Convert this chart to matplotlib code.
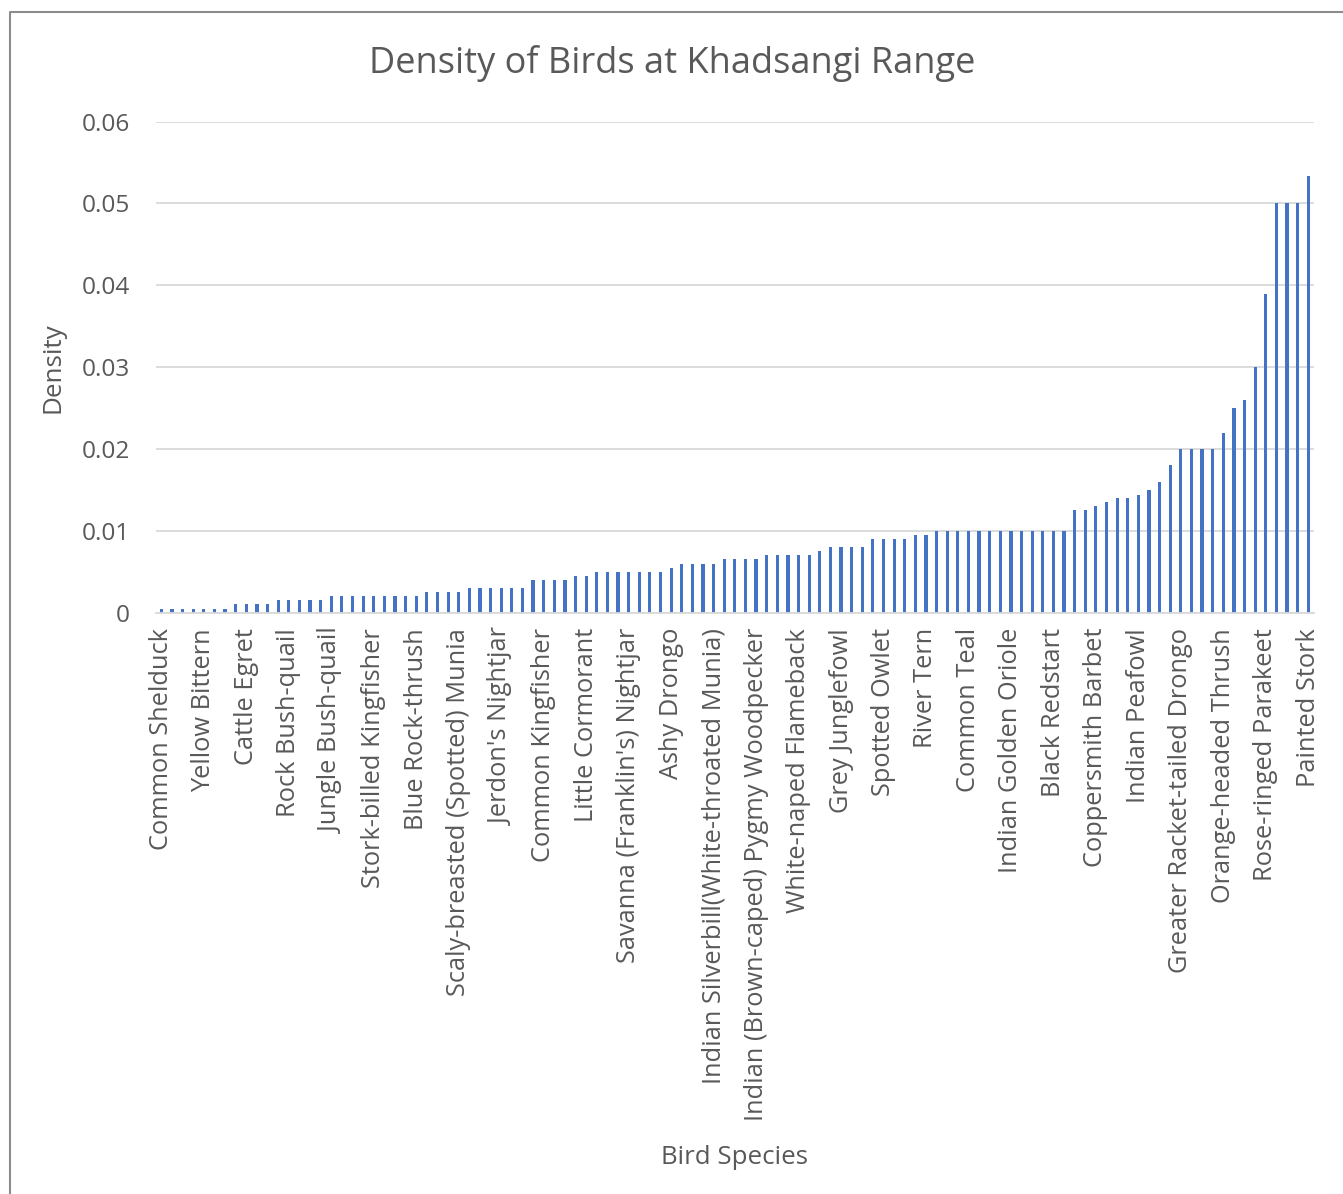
import matplotlib
matplotlib.use("Agg")
import matplotlib.pyplot as plt
from matplotlib.lines import Line2D

plt.rcParams['font.family'] = ['Open Sans', 'DejaVu Sans']

bar_col = "#4472C4"
txt_col = "#595959"
grid_col = "#D9D9D9"

# density per species, sorted ascending (109 species)
density = [
    0.0005, 0.0005, 0.0005, 0.0005, 0.0005, 0.0005, 0.0005,
    0.001, 0.001, 0.001, 0.001,
    0.0015, 0.0015, 0.0015, 0.0015, 0.0015,
    0.002, 0.002, 0.002, 0.002, 0.002, 0.002, 0.002, 0.002, 0.002,
    0.0025, 0.0025, 0.0025, 0.0025,
    0.003, 0.003, 0.003, 0.003, 0.003, 0.003,
    0.004, 0.004, 0.004, 0.004,
    0.0045, 0.0045,
    0.005, 0.005, 0.005, 0.005, 0.005, 0.005, 0.005,
    0.0055,
    0.006, 0.006, 0.006, 0.006,
    0.0065, 0.0065, 0.0065, 0.0065,
    0.007, 0.007, 0.007, 0.007, 0.007,
    0.0075,
    0.008, 0.008, 0.008, 0.008,
    0.009, 0.009, 0.009, 0.009,
    0.0095, 0.0095,
    0.01, 0.01, 0.01, 0.01, 0.01, 0.01, 0.01, 0.01, 0.01, 0.01, 0.01, 0.01, 0.01,
    0.0125, 0.0125,
    0.013,
    0.0135,
    0.014, 0.014,
    0.0144,
    0.015,
    0.016,
    0.018,
    0.02, 0.02, 0.02, 0.02,
    0.022,
    0.025,
    0.026,
    0.03,
    0.039,
    0.05, 0.05, 0.05,
    0.0533,
]

# only every 4th species name is shown on the axis
shown_labels = [
    "Common Shelduck", "Yellow Bittern", "Cattle Egret", "Rock Bush-quail",
    "Jungle Bush-quail", "Stork-billed Kingfisher", "Blue Rock-thrush",
    "Scaly-breasted (Spotted) Munia", "Jerdon's Nightjar", "Common Kingfisher",
    "Little Cormorant", "Savanna (Franklin's) Nightjar", "Ashy Drongo",
    "Indian Silverbill(White-throated Munia)",
    "Indian (Brown-caped) Pygmy Woodpecker", "White-naped Flameback",
    "Grey Junglefowl", "Spotted Owlet", "River Tern", "Common Teal",
    "Indian Golden Oriole", "Black Redstart", "Coppersmith Barbet",
    "Indian Peafowl", "Greater Racket-tailed Drongo", "Orange-headed Thrush",
    "Rose-ringed Parakeet", "Painted Stork",
]
label_step = 4

yticks = [0, 0.01, 0.02, 0.03, 0.04, 0.05, 0.06]
ytick_labels = ["0", "0.01", "0.02", "0.03", "0.04", "0.05", "0.06"]

fig = plt.figure(figsize=(13.43, 11.94), dpi=100)
ax = fig.add_axes([0.1162, 0.4869, 0.8619, 0.4112])

xs = list(range(len(density)))
ax.bar(xs, density, width=0.3, color=bar_col, zorder=3)

ax.set_xlim(-0.5, len(density) - 0.5)
ax.set_ylim(0, 0.06)
ax.set_yticks(yticks)
ax.set_yticklabels(ytick_labels)
ax.set_xticks(xs[::label_step])
ax.set_xticklabels(shown_labels, rotation=90, ha="center", va="top")

ax.tick_params(axis="y", length=0, pad=19, labelsize=17.6, labelcolor=txt_col)
ax.tick_params(axis="x", length=0, pad=11, labelsize=18.3, labelcolor=txt_col)
ax.grid(axis="y", color=grid_col, linewidth=1.3, zorder=0)
for s in ["top", "right", "left"]:
    ax.spines[s].set_visible(False)
ax.spines["bottom"].set_color(grid_col)
ax.spines["bottom"].set_linewidth(1.3)
ax.spines["bottom"].set_zorder(4)

fig.text(0.5005, 0.947, "Density of Birds at Khadsangi Range", ha="center", va="center",
         fontsize=26, color=txt_col)
fig.text(0.5466, 0.0305, "Bird Species", ha="center", va="center", fontsize=18.6, color=txt_col)
fig.text(0.0395, 0.6918, "Density", ha="center", va="center", rotation=90, fontsize=18.8,
         color=txt_col)

# chart border (right and bottom edges are cut off in the source)
bx = 10 / 1343
by = 1 - 12 / 1194
fig.add_artist(Line2D([bx, bx, 1.0], [0.0, by, by], transform=fig.transFigure,
                      color="#8C8C8C", linewidth=1.5))

plt.savefig("out.png", dpi=100)
